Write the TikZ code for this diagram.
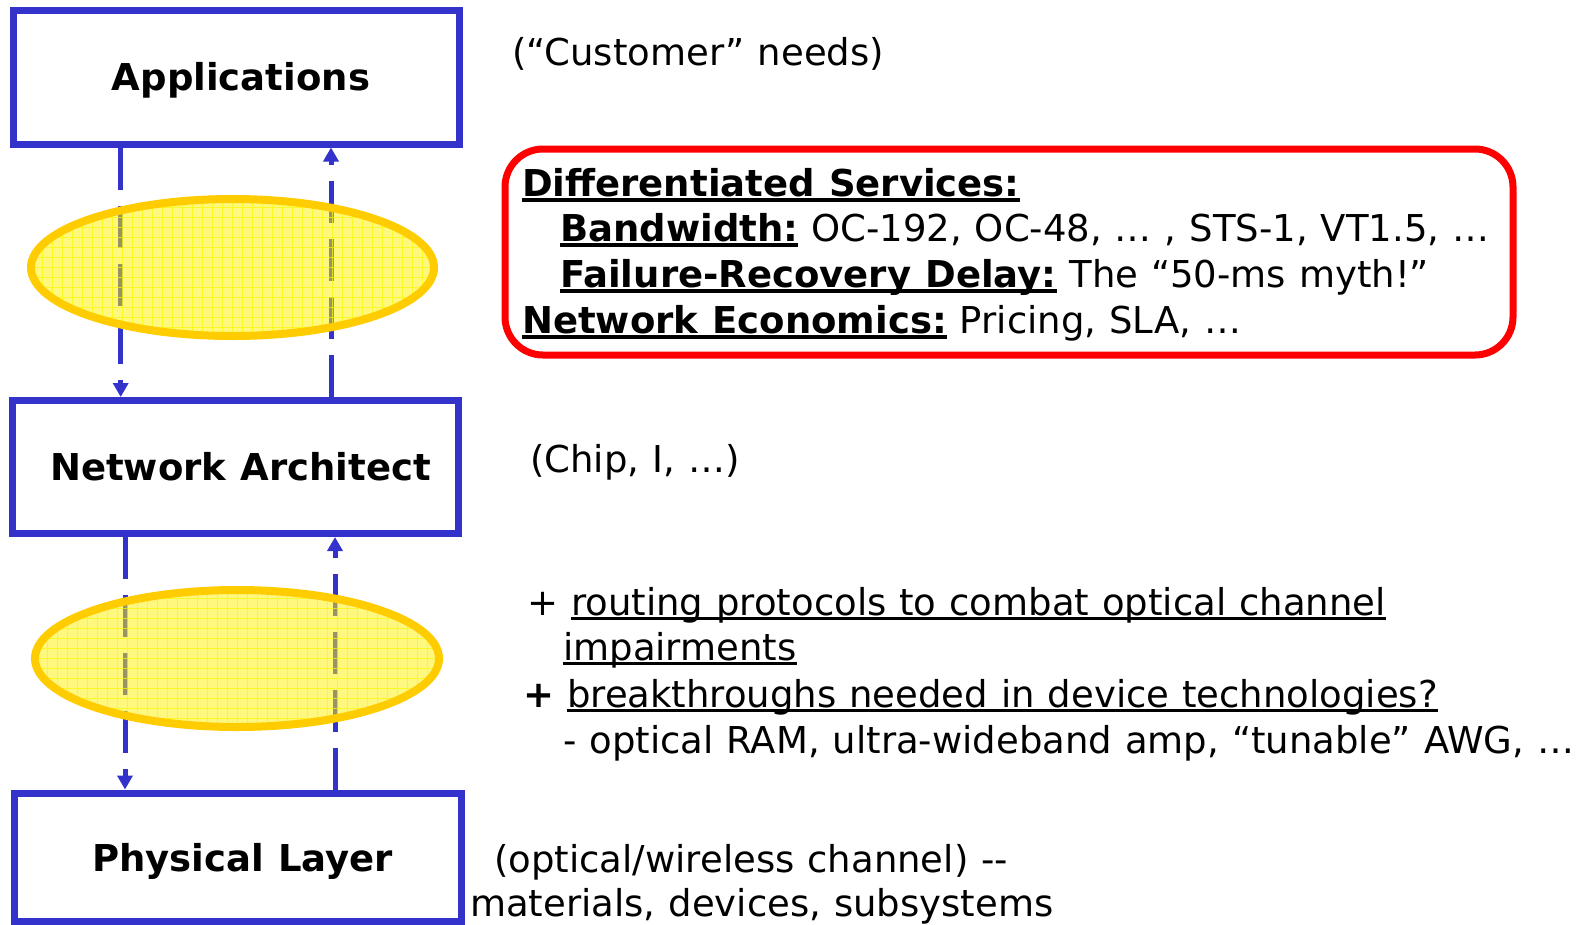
\documentclass[tikz,border=0pt]{standalone}
\usepackage{fontspec}
\setmainfont[WordSpace=1.1]{DejaVu Sans}
\usetikzlibrary{arrows.meta,shapes.geometric}
\definecolor{boxblue}{RGB}{51,51,204}
\definecolor{gold}{RGB}{255,204,0}
\definecolor{gridyel}{RGB}{250,250,0}
\newsavebox\myulbox
\newcommand\ulb[1]{\sbox\myulbox{#1}\rlap{\rule[-6pt]{\wd\myulbox}{4pt}}\usebox\myulbox}
\newcommand\ulr[1]{\sbox\myulbox{#1}\rlap{\rule[-5pt]{\wd\myulbox}{3pt}}\usebox\myulbox}
\tikzset{
  blbox/.style={draw=boxblue, line width=7pt, rectangle, inner sep=0pt, fill=white,
    text height=28pt, text depth=1pt,
    font=\bfseries\fontsize{37}{45}\selectfont},
  flow/.style={draw=boxblue, line width=5pt, dash pattern=on 42pt off 16pt,
    -{Triangle[length=14pt,width=15pt]}},
  cloud/.style={ellipse, draw=gold, line width=8pt, fill=yellow, fill opacity=0.5,
    inner sep=0pt,
    path picture={\draw[gridyel, line width=1pt, draw opacity=0.7]
      (path picture bounding box.south west) grid[step=10pt] (path picture bounding box.north east);}},
  svcbox/.style={draw=red, line width=7pt, rounded corners=38pt, rectangle, inner sep=0pt},
  txt/.style={anchor=base west, inner sep=0pt, font=\fontsize{37}{45}\selectfont}
}
\begin{document}
\begin{tikzpicture}[x=1pt,y=-1pt]
\useasboundingbox[fill=white] (0,0) rectangle (1589,924);
% layer boxes
\node[blbox, minimum width=446pt, minimum height=134pt] (app) at (236,77) {\hspace*{10pt}Applications};
\node[blbox, minimum width=446pt, minimum height=133pt] (net) at (235.5,467) {\hspace*{10pt}Network Architect};
\node[blbox, minimum width=447pt, minimum height=128pt, text height=29pt] (phy) at (237.5,857) {\hspace*{10pt}Physical Layer};
% connectors
\coordinate (a1) at ([xshift=-115.3pt]app.south);
\coordinate (a2) at ([xshift=95pt]app.south);
\coordinate (b1) at ([xshift=-110.5pt]net.south);
\coordinate (b2) at ([xshift=99.5pt]net.south);
\draw[flow] (a1) -- (a1 |- net.north);
\draw[flow] (a2 |- net.north) -- (a2);
\draw[flow] (b1) -- (b1 |- phy.north);
\draw[flow] (b2 |- phy.north) -- (b2);
% ellipses
\node[cloud, minimum width=403pt, minimum height=137pt] (e1) at (232.5,267.5) {};
\node[cloud, minimum width=404pt, minimum height=137pt] (e2) at (237,658.5) {};
% red box
\node[svcbox, minimum width=1008pt, minimum height=206pt] (svc) at (1009,252) {};
% texts
\node[txt] (cust) at (512,65) {(“Customer” needs)};
\node[txt] (ds1) at (522,196) {\bfseries\ulb{Differentiated Services:}};
\node[txt] (ds2) at (560,241) {\ulb{\bfseries Bandwidth:} OC-192, OC-48, … , STS-1, VT1.5, …};
\node[txt] (ds3) at (560,287) {\ulb{\bfseries Failure-Recovery Delay:} The “50-ms myth!”};
\node[txt] (ds4) at (522,333) {\ulb{\bfseries Network Economics:} Pricing, SLA, …};
\node[txt] (chip) at (530,472) {(Chip, I, …)};
\node[txt] (r1) at (527,615) {+ \ulr{routing protocols to combat optical channel}};
\node[txt] (r2) at (563,660) {\ulr{impairments}};
\node[txt] (r3) at (523,707) {\textbf{+} \ulr{breakthroughs needed in device technologies?}};
\node[txt] (r4) at (563,753) {- optical RAM, ultra-wideband amp, “tunable” AWG, …};
\node[txt] (p1) at (494,872) {(optical/wireless channel) -{}-};
\node[txt] (p2) at (470,916) {materials, devices, subsystems};
\end{tikzpicture}
\end{document}
